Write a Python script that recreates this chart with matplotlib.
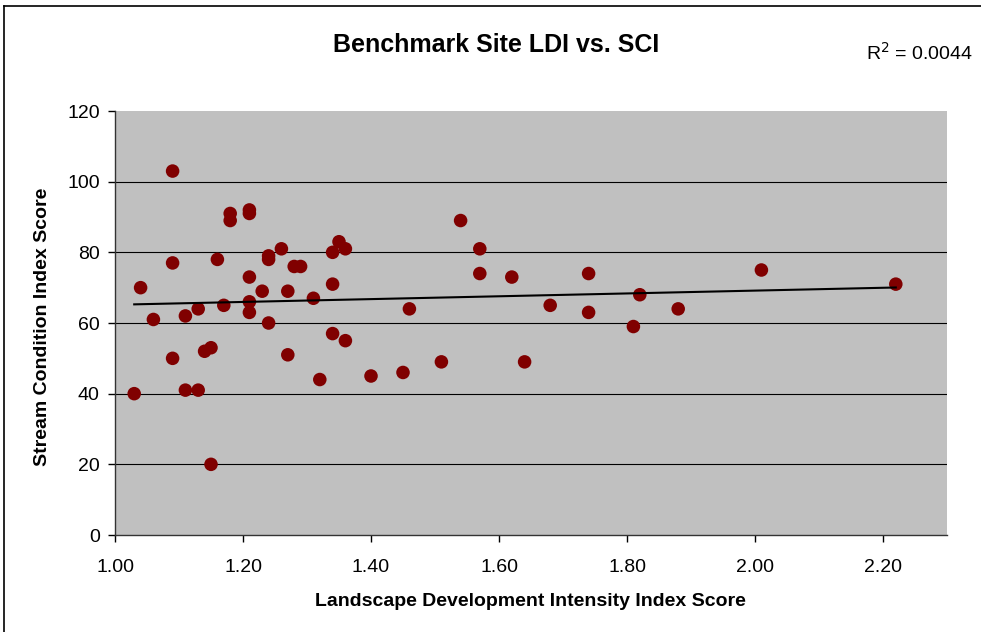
import numpy as np
import matplotlib.pyplot as plt
from matplotlib.lines import Line2D

plt.rcParams['font.family'] = ['Liberation Sans', 'DejaVu Sans']

# LDI (x) and SCI (y) for each benchmark site
ldi = [1.03, 1.04, 1.06, 1.09, 1.09, 1.09, 1.11, 1.11, 1.13, 1.13,
       1.14, 1.15, 1.15, 1.16, 1.17, 1.18, 1.18, 1.21, 1.21, 1.21,
       1.21, 1.21, 1.23, 1.24, 1.24, 1.24, 1.26, 1.27, 1.27, 1.28,
       1.29, 1.31, 1.32, 1.34, 1.34, 1.34, 1.35, 1.36, 1.36, 1.40,
       1.45, 1.46, 1.51, 1.54, 1.57, 1.57, 1.62, 1.64, 1.68, 1.74,
       1.74, 1.81, 1.82, 1.88, 2.01, 2.22]
sci = [40, 70, 61, 103, 77, 50, 62, 41, 64, 41,
       52, 53, 20, 78, 65, 91, 89, 92, 91, 73,
       66, 63, 69, 79, 78, 60, 81, 69, 51, 76,
       76, 67, 44, 80, 71, 57, 83, 81, 55, 45,
       46, 64, 49, 89, 81, 74, 73, 49, 65, 74,
       63, 59, 68, 64, 75, 71]

x_ticks = [1.00, 1.20, 1.40, 1.60, 1.80, 2.00, 2.20]
y_ticks = [0, 20, 40, 60, 80, 100, 120]

W, H = 981, 632
fig = plt.figure(figsize=(W / 100, H / 100), dpi=100)
ax = fig.add_axes([115 / W, 1 - 535 / H, 832 / W, 424 / H])
ax.set_facecolor('#C0C0C0')

for yv in y_ticks[1:-1]:
    ax.axhline(yv, color='black', lw=0.8, zorder=1)

ax.scatter(ldi, sci, s=95, color='#800000', edgecolors='none', zorder=3)

# linear trendline
m, b = np.polyfit(ldi, sci, 1)
xs = np.array([min(ldi), max(ldi)])
ax.plot(xs, m * xs + b, color='black', lw=1.5, zorder=4)

ax.set_xlim(1.0, 2.3)
ax.set_ylim(0, 120)
ax.set_xticks(x_ticks)
ax.set_xticklabels([f'{v:.2f}' for v in x_ticks])
ax.set_yticks(y_ticks)
ax.tick_params(axis='both', labelsize=14, length=5, width=1, direction='out')
ax.tick_params(axis='x', pad=12)
ax.tick_params(axis='y', pad=6)
for s in ['top', 'right']:
    ax.spines[s].set_visible(False)
for s in ['left', 'bottom']:
    ax.spines[s].set_color('#333333')
    ax.spines[s].set_linewidth(1)

fig.text(496 / W, 1 - 45 / H, 'Benchmark Site LDI vs. SCI', ha='center',
         va='center', fontsize=18, fontweight='bold')
fig.text(866 / W, 1 - 53 / H, 'R$^2$ = 0.0044', ha='left', va='center',
         fontsize=14)
fig.text(530 / W, 1 - 602 / H, 'Landscape Development Intensity Index Score',
         ha='center', va='center', fontsize=14, fontweight='bold')
fig.text(43 / W, 1 - 327 / H, 'Stream Condition Index Score', ha='center',
         va='center', rotation=90, fontsize=14, fontweight='bold')

# chart frame (left and top edges visible)
fig.add_artist(Line2D([4 / W, 4 / W], [0, 1 - 6 / H], color='black', lw=1.2,
                      transform=fig.transFigure))
fig.add_artist(Line2D([4 / W, 1], [1 - 6 / H, 1 - 6 / H], color='black',
                      lw=1.2, transform=fig.transFigure))

fig.savefig('out.png', dpi=100)
